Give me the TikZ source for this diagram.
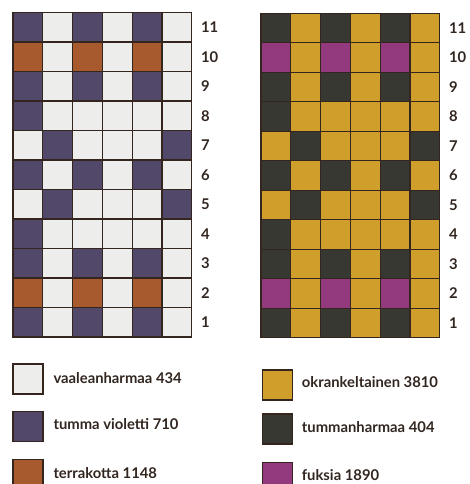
\documentclass[tikz,border=0pt]{standalone}
\usepackage{fontspec}
\setmainfont{Lato}[BoldFont={Lato Bold}]
\definecolor{ink}{RGB}{50,38,32}
\definecolor{gridline}{RGB}{52,38,30}
\definecolor{vaalea}{RGB}{237,237,235}
\definecolor{violetti}{RGB}{82,72,105}
\definecolor{terra}{RGB}{166,90,46}
\definecolor{okra}{RGB}{208,158,42}
\definecolor{tumma}{RGB}{55,56,50}
\definecolor{fuksia}{RGB}{147,58,126}
% colour codes 0/1/2 for the two charts
\colorlet{L0}{vaalea}\colorlet{L1}{violetti}\colorlet{L2}{terra}
\colorlet{R0}{okra}\colorlet{R1}{tumma}\colorlet{R2}{fuksia}
\newcommand{\cellw}{29.8}
\newcommand{\cellh}{29.5}

\begin{document}
\begin{tikzpicture}[x=1pt,y=-1pt,
  cell/.style={draw=gridline,line width=1.2pt},
  rownum/.style={ink,font=\bfseries\fontsize{14.8}{17}\selectfont,anchor=west,inner sep=0pt},
  legtext/.style={ink,font=\bfseries\fontsize{14.8}{17}\selectfont,anchor=base west,inner sep=0pt}]
  \useasboundingbox (0,0) rectangle (469,484);
  \foreach \grid/\gx/\gy in {L/13/12.5,R/261/13.3}{
    \foreach \r/\cells in {11/{1,0,1,0,1,0},10/{2,0,2,0,2,0},9/{1,0,1,0,1,0},8/{1,0,0,0,0,0},
        7/{0,1,0,0,0,1},6/{1,0,1,0,1,0},5/{0,1,0,0,0,1},4/{1,0,0,0,0,0},
        3/{1,0,1,0,1,0},2/{2,0,2,0,2,0},1/{1,0,1,0,1,0}}{
      \foreach \c [count=\i] in \cells {
        \filldraw[cell,fill=\grid\c] ({\gx+(\i-1)*\cellw},{\gy+(11-\r)*\cellh}) rectangle ++(\cellw,\cellh);
      }
      \node[rownum] (num\grid\r) at ({\gx+6*\cellw+9},{\gy+(11.5-\r)*\cellh}) {\r};
    }
  }
  % legend
  \foreach \col/\sx/\sy/\tx/\ty/\txt [count=\n] in {
      vaalea/13/364/53.3/383.3/{vaaleanharmaa 434},
      violetti/13/411.7/53.3/429.3/{tumma violetti 710},
      terra/13/459.3/53.3/478.3/{terrakotta 1148},
      okra/262.3/370/301.7/387.7/{okrankeltainen 3810},
      tumma/262.3/414/301.7/432.3/{tummanharmaa 404},
      fuksia/262.3/462.7/301.7/480/{fuksia 1890}}{
    \filldraw[cell,fill=\col] (\sx,\sy) rectangle ++(30,30);
    \node[legtext] (leg\n) at (\tx,\ty) {\txt};
  }
\end{tikzpicture}
\end{document}
